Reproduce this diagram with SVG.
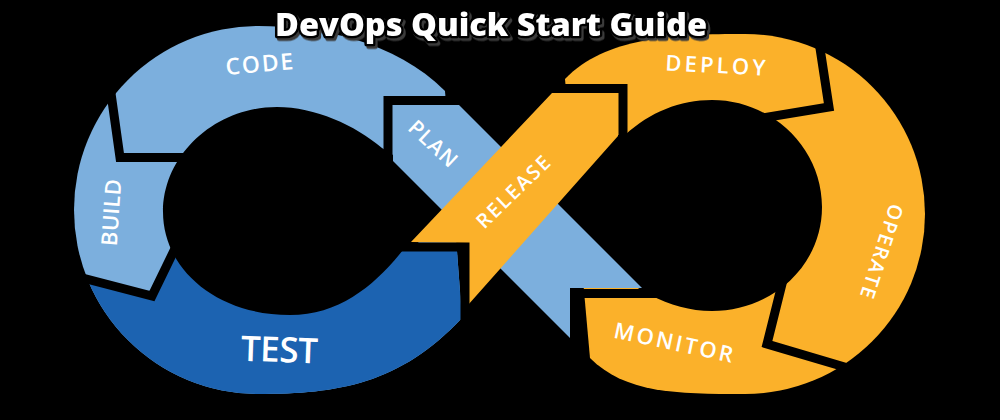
<svg xmlns="http://www.w3.org/2000/svg" width="1000" height="420" viewBox="0 0 1000 420">
  <style>
    .lb { fill: #7cafdd; }
    .db { fill: #1c63b1; }
    .or { fill: #fbb12a; }
    .hole { fill: #000; }
    .gap { fill: none; stroke: #000; stroke-width: 9; stroke-linejoin: miter; stroke-miterlimit: 10; stroke-linecap: butt; }
    .lbl { font-family: "Open Sans", "Liberation Sans", sans-serif; font-weight: 600; fill: #fff; text-anchor: middle; }
    .title { font-family: "Open Sans", "Liberation Sans", sans-serif; font-weight: 800; font-size: 32px; text-anchor: middle; }
  </style>
  <defs>
    <clipPath id="leftClip">
      <path d="M 445,91 C 395,41 320,26 258,26 A 184 184 0 0 0 258 394 C 338,394 400,384 462,318 Z"/>
    </clipPath>
    <filter id="titleShadow" x="-5%" y="-30%" width="110%" height="160%">
      <feDropShadow dx="2" dy="2.5" stdDeviation="0.6" flood-color="#3a3a3a" flood-opacity="1"/>
    </filter>
  </defs>
  <rect width="1000" height="420" fill="#000"/>

  <g id="left-loop">
    <g id="code">
      <path class="lb" d="M 445,91 C 395,41 320,26 258,26 A 184 184 0 0 0 258 394 C 338,394 400,384 462,318 Z"/>
    </g>
    <g id="build"/>
    <g id="test">
      <polygon class="db" clip-path="url(#leftClip)" points="20,262 152,296 182,234 300,232 405,247 470,247 470,420 20,420"/>
    </g>
  </g>

  <g id="right-loop">
    <g id="deploy">
      <path class="or" d="M 565,79 C 605,37 675,34 745,34 A 180 180 0 0 1 745 394 C 675,394 625,393 590,358 Z"/>
    </g>
  </g>

  <g id="holes">
    <path class="hole" d="M 382,148 C 355,125 315,107 277,107 C 215,107 163,155 163,212 C 163,268 215,315 290,315 C 340,315 375,285 403,250 L 415,246 L 450,210 L 393,155 Z"/>
    <path class="hole" d="M 625,135 C 650,112 680,100 712,100 C 772,100 822,148 822,207 C 822,266 772,311 712,311 C 690,311 670,305 650,295 L 636,287 L 553,205 L 612,135 Z"/>
  </g>

  <g id="plan">
    <polygon class="lb" points="393,105 457,103 642,288 570,288 570,338 393,161"/>
  </g>
  <g id="release">
    <polygon class="or" points="552,93 618,93 618,136 468,305 468,243 411,242"/>
  </g>

  <g id="connectors">
    <path class="gap" d="M 475,100.5 L 388,100.5 L 388,168"/>
    <path class="gap" d="M 108,72 L 120,157.5 L 188,157.5"/>
    <path class="gap" d="M 48,269 L 152,296 L 184,230"/>
    <path class="gap" d="M 400,247 L 465,247 L 465,330"/>
    <path class="gap" d="M 545,88.5 L 623,88.5 L 623,148"/>
    <path class="gap" d="M 816,22 L 829,107 L 762,118"/>
    <path class="gap" d="M 786,268 L 767,344 L 848,368"/>
    <path class="gap" d="M 576,365 L 576,293.5 L 662,293.5"/>
  </g>

  <g id="labels">
    <text class="lbl" font-size="23" textLength="68" lengthAdjust="spacing" transform="translate(260,72) rotate(-5)">CODE</text>
    <text class="lbl" font-size="22" textLength="67" lengthAdjust="spacing" transform="translate(119,213) rotate(-86)">BUILD</text>
    <text class="lbl" font-size="35" font-weight="700" textLength="77" lengthAdjust="spacing" transform="translate(279,362) rotate(2)">TEST</text>
    <text class="lbl" font-size="21" textLength="58" lengthAdjust="spacing" transform="translate(428,149) rotate(43)">PLAN</text>
    <text class="lbl" font-size="20" textLength="94" lengthAdjust="spacing" transform="translate(518,197) rotate(-44)">RELEASE</text>
    <text class="lbl" font-size="22" textLength="100" lengthAdjust="spacing" transform="translate(715,73) rotate(3)">DEPLOY</text>
    <text class="lbl" font-size="20" textLength="98" lengthAdjust="spacing" transform="translate(875,249) rotate(108)">OPERATE</text>
    <text class="lbl" font-size="22" textLength="121" lengthAdjust="spacing" transform="translate(672,350) rotate(12)">MONITOR</text>
  </g>

  <g id="title">
    <text class="title" x="491" y="36" textLength="432" lengthAdjust="spacingAndGlyphs" fill="#fff" stroke="#000" stroke-width="5" stroke-linejoin="round" paint-order="stroke" filter="url(#titleShadow)">DevOps Quick Start Guide</text>
  </g>
</svg>
